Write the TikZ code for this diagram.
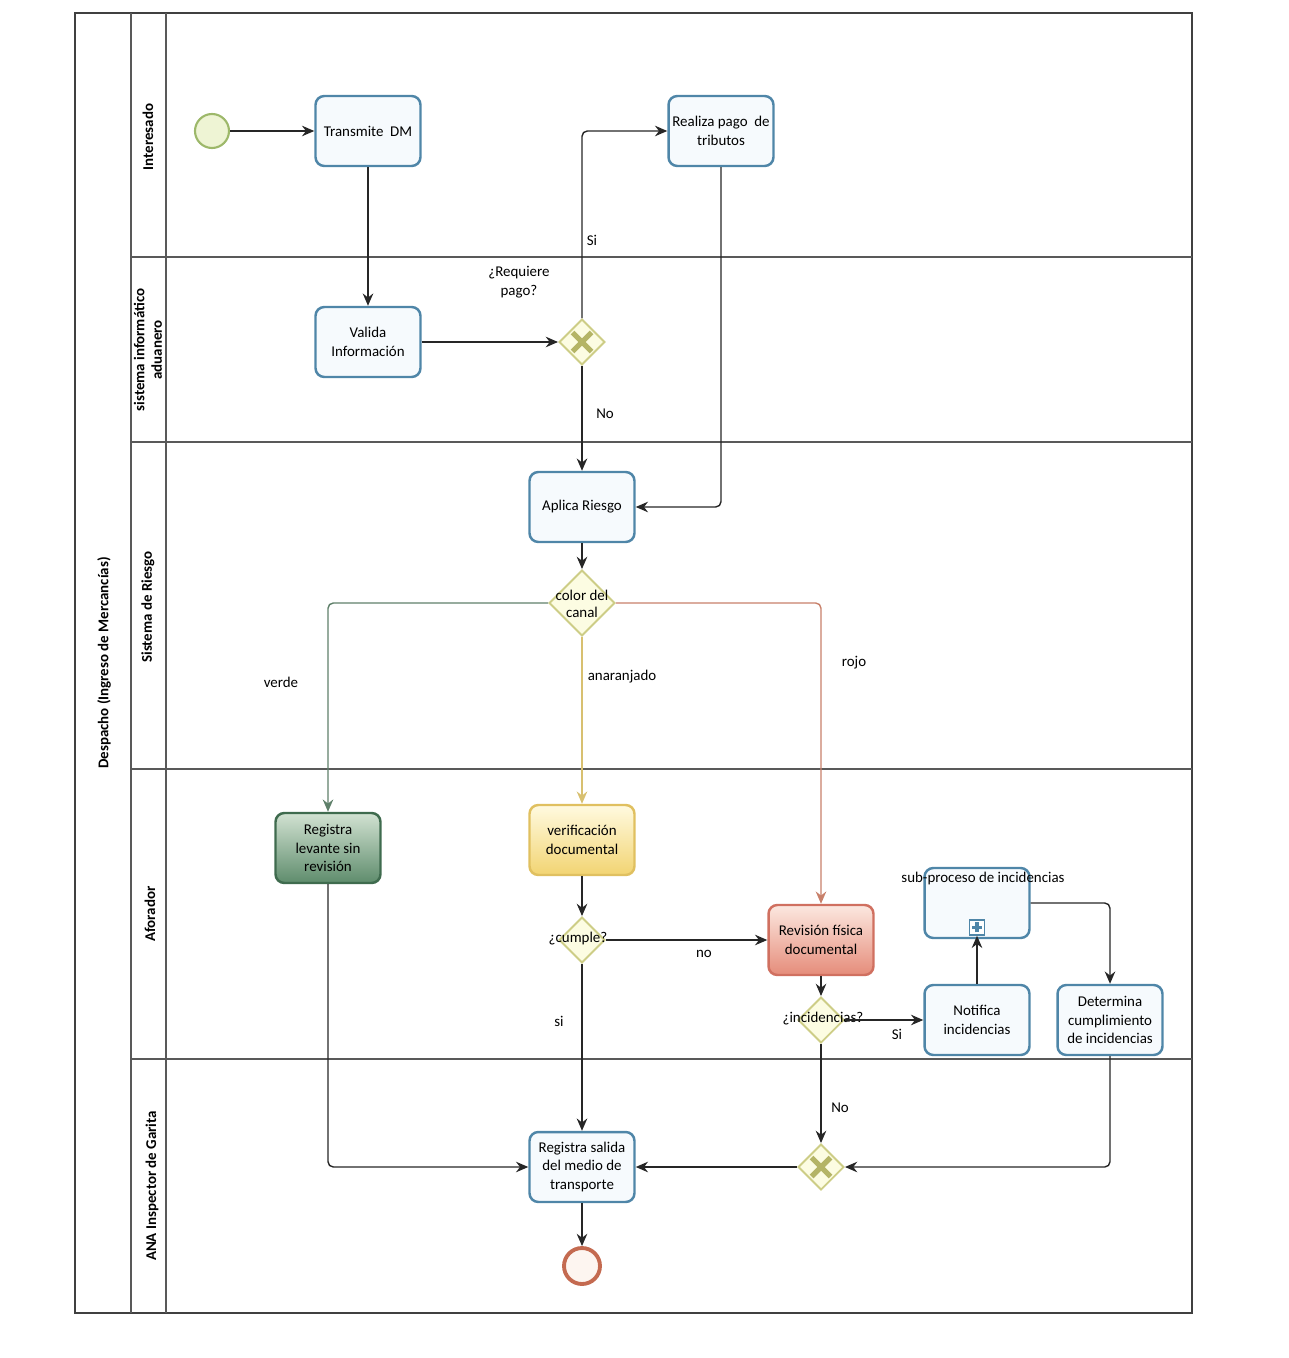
\documentclass[tikz,border=0pt]{standalone}
\usepackage{fontspec}
\setmainfont{Carlito}
\usetikzlibrary{shapes.geometric,arrows.meta,calc}
\definecolor{taskb}{HTML}{4F86A8}
\definecolor{taskf}{HTML}{F6FAFD}
\definecolor{gwb}{HTML}{CDCD86}
\definecolor{gwf}{HTML}{FCFCE2}
\definecolor{gwxc}{HTML}{B4B466}
\definecolor{startb}{HTML}{9DB86A}
\definecolor{startf}{HTML}{EEF4D4}
\definecolor{endb}{HTML}{C46A50}
\definecolor{endf}{HTML}{FDF5F0}
\definecolor{greenl}{HTML}{5F806A}
\definecolor{orangel}{HTML}{D8C070}
\definecolor{redl}{HTML}{C8806A}
\definecolor{grnb}{HTML}{3F6B4E}
\definecolor{grntop}{HTML}{D2E2D2}
\definecolor{grnbot}{HTML}{5E8C6C}
\definecolor{yelb}{HTML}{E0C060}
\definecolor{yeltop}{HTML}{FFFAE0}
\definecolor{yelbot}{HTML}{F2D472}
\definecolor{redb}{HTML}{D07060}
\definecolor{redtop}{HTML}{FCE8E0}
\definecolor{redbot}{HTML}{E58C7A}
\begin{document}
\begin{tikzpicture}[x=0.02cm,y=-0.02cm,
  font=\fontsize{8.5}{10.5}\selectfont,
  task/.style={draw=taskb, line width=1.4pt, rounded corners=5pt, fill=taskf,
    minimum width=2.1cm, minimum height=1.4cm, align=center, inner sep=2pt},
  gw/.style={diamond, aspect=1, draw=gwb, line width=1.1pt, fill=gwf,
    minimum width=0.92cm, minimum height=0.92cm, inner sep=0pt},
  gwx/.style={gw, path picture={
    \draw[line width=3pt, gwxc] ([shift={(-0.19cm,-0.19cm)}]path picture bounding box.center) -- ([shift={(0.19cm,0.19cm)}]path picture bounding box.center);
    \draw[line width=3pt, gwxc] ([shift={(-0.19cm,0.19cm)}]path picture bounding box.center) -- ([shift={(0.19cm,-0.19cm)}]path picture bounding box.center);}},
  flow/.style={draw=black!85, line width=0.8pt, -{Stealth[length=7pt,width=6pt]}, rounded corners=3pt},
  lbl/.style={inner sep=1pt, font=\fontsize{8.5}{10.5}\selectfont},
  lanetxt/.style={rotate=90, font=\bfseries\fontsize{8.5}{10}\selectfont, align=center},
  laneline/.style={draw=black!65, line width=0.6pt},
]
\useasboundingbox (0,0) rectangle (1288,1358);

% pool and lanes
\draw[draw=black!75, line width=1pt] (75,13) rectangle (1192,1313);
\draw[laneline] (131,13) -- (131,1313);
\draw[laneline] (166,13) -- (166,1313);
\draw[laneline] (131,257) -- (1192,257);
\draw[laneline] (131,442) -- (1192,442);
\draw[laneline] (131,769) -- (1192,769);
\draw[laneline] (131,1059) -- (1192,1059);

\node[lanetxt] (pooltitle) at (104,663) {Despacho (Ingreso de Mercancías)};
\node[lanetxt] (l1) at (148,137) {Interesado};
\node[lanetxt] (l2) at (148,350) {sistema informático\\aduanero};
\node[lanetxt] (l3) at (148,607) {Sistema de Riesgo};
\node[lanetxt] (l4) at (150,914) {Aforador};
\node[lanetxt] (l5) at (152,1186) {ANA Inspector de Garita};

% events
\node[circle, draw=startb, line width=1.2pt, fill=startf, minimum size=0.68cm, inner sep=0] (start) at (212,131) {};
\node[circle, draw=endb, line width=2.2pt, fill=endf, minimum size=0.72cm, inner sep=0] (fin) at (582,1266) {};

% tasks
\node[task] (transmite) at (368,131) {Transmite\ \ DM};
\node[task] (valida) at (368,342) {Valida\\Información};
\node[task] (pago) at (721,131) {Realiza pago\ \ de\\tributos};
\node[task] (aplica) at (582,507) {Aplica Riesgo};
\node[task, draw=grnb, top color=grntop, bottom color=grnbot] (levante) at (328,848) {Registra\\levante sin\\revisión};
\node[task, draw=yelb, top color=yeltop, bottom color=yelbot] (verif) at (582,840) {verificación\\documental};
\node[task, draw=redb, top color=redtop, bottom color=redbot] (revision) at (821,940) {Revisión física\\documental};
\node[task] (notif) at (977,1020) {Notifica\\incidencias};
\node[task] (subproc) at (977,903) {};
\node[task] (determina) at (1110,1020) {Determina\\cumplimiento\\de incidencias};
\node[task] (salida) at (582,1167) {Registra salida\\del medio de\\transporte};

% sub-process marker
\node[draw=taskb, line width=1pt, fill=white, minimum size=0.3cm, inner sep=0, anchor=south] (subm) at ([yshift=2pt]subproc.south) {};
\draw[taskb, line width=1.8pt] ([xshift=-2.8pt]subm.center) -- ([xshift=2.8pt]subm.center);
\draw[taskb, line width=1.8pt] ([yshift=-2.8pt]subm.center) -- ([yshift=2.8pt]subm.center);
\node[lbl] (subtxt) at (983,879) {sub-proceso de incidencias};

% gateways
\node[gwx] (g1) at (582,342) {};
\node[gw, minimum width=1.32cm, minimum height=1.32cm] (gcolor) at (582,603) {};
\node[lbl, align=center, font=\fontsize{8.5}{9.5}\selectfont] (gcolortxt) at (582,604) {color del\\canal};
\node[gw] (cumple) at (582,940) {};
\node[lbl] (cumpletxt) at (578,939) {¿cumple?};
\node[gw] (incid) at (821,1020) {};
\node[lbl] (incidtxt) at (823,1019) {¿incidencias?};
\node[gwx] (x2) at (821,1167) {};

% flows
\draw[flow] (start) -- (transmite);
\draw[flow] (transmite) -- (valida);
\draw[flow] (valida) -- (g1);
\draw[flow] (g1.north) |- (pago.west);
\draw[flow] (g1.south) -- (aplica.north);
\draw[flow] (pago.south) |- (aplica.east);
\draw[flow] (aplica) -- (gcolor);
\draw[flow, draw=greenl] (gcolor.west) -| (levante.north);
\draw[flow, draw=orangel] (gcolor.south) -- (verif.north);
\draw[flow, draw=redl] (gcolor.east) -| (revision.north);
\draw[flow] (verif) -- (cumple);
\draw[flow] (cumple.east) -- (revision.west);
\draw[flow] (cumple.south) -- (salida.north);
\draw[flow] (levante.south) |- (salida.west);
\draw[flow] (revision) -- (incid);
\draw[flow] (incid.east) -- (notif.west);
\draw[flow] (notif.north) -- (subm.south);
\draw[flow] (subproc.east) -| (determina.north);
\draw[flow] (incid.south) -- (x2.north);
\draw[flow] (determina.south) |- (x2.east);
\draw[flow] (x2.west) -- (salida.east);
\draw[flow] (salida) -- (fin);

% labels
\node[lbl, align=center] (lreq) at (519,282) {¿Requiere\\pago?};
\node[lbl] (lsi1) at (592,240) {Si};
\node[lbl] (lno1) at (605,414) {No};
\node[lbl] (lverde) at (281,682) {verde};
\node[lbl] (lanar) at (622,677) {anaranjado};
\node[lbl] (lrojo) at (854,663) {rojo};
\node[lbl] (lno2) at (704,954) {no};
\node[lbl] (lsi2) at (559,1021) {si};
\node[lbl] (lsi3) at (897,1034) {Si};
\node[lbl] (lno3) at (840,1108) {No};
\end{tikzpicture}
\end{document}
